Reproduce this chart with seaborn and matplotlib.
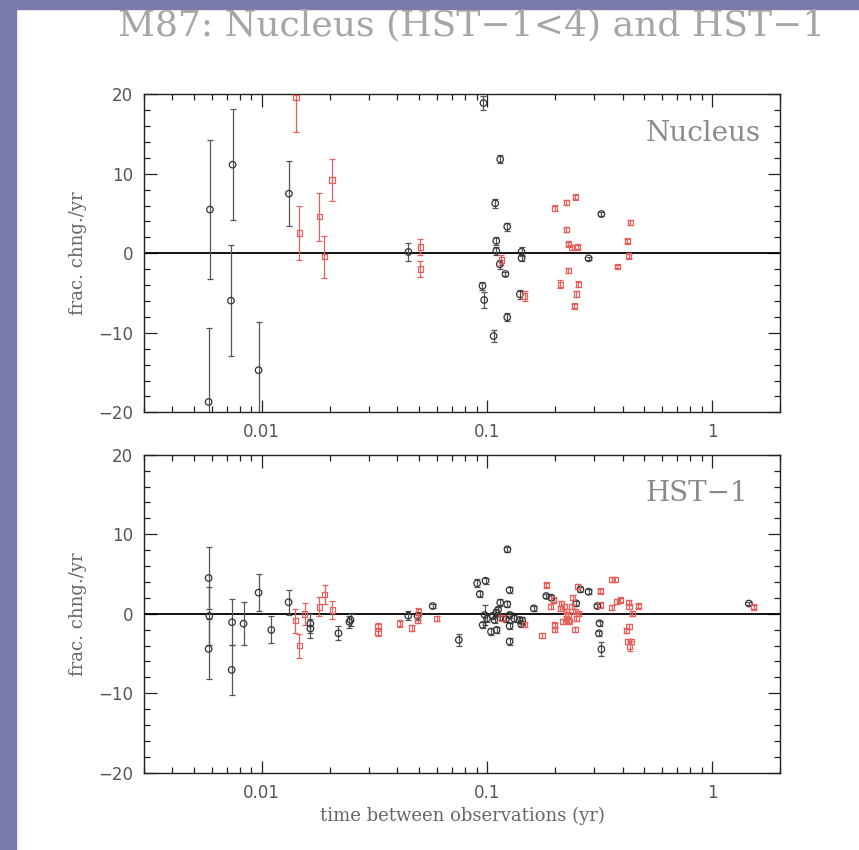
import numpy as np
import pandas as pd
import matplotlib
matplotlib.use("Agg")
import matplotlib.pyplot as plt
from matplotlib.ticker import MultipleLocator, LogLocator, FixedLocator, FixedFormatter, NullFormatter
from matplotlib.patches import Rectangle
import seaborn as sns

# ---------------- data ----------------
title = "M87: Nucleus (HST\u22121<4) and HST\u22121"
panel_names = ["Nucleus", "HST\u22121"]
xlabel = "time between observations (yr)"
ylabel = "frac. chng./yr"
xtick_vals = [0.01, 0.1, 1]
xtick_labels = ["0.01", "0.1", "1"]
ytick_vals = [-20, -10, 0, 10, 20]
ytick_labels = ["\u221220", "\u221210", "0", "10", "20"]

# Nucleus panel, black circles
nuc_k_x = [0.00589, 0.00742, 0.0073, 0.00581, 0.00968, 0.0132, 0.0448, 0.0965,
           0.1145, 0.1088, 0.123, 0.110, 0.110, 0.114, 0.1208, 0.0955, 0.0972,
           0.123, 0.107, 0.140, 0.1424, 0.1424, 0.322, 0.2825]
nuc_k_y = [5.5, 11.15, -5.96, -18.7, -14.7, 7.5, 0.16, 18.9,
           11.82, 6.29, 3.35, 1.55, 0.29, -1.38, -2.6, -4.1, -5.87,
           -8.05, -10.4, -5.16, 0.2, -0.59, 4.94, -0.63]
nuc_k_e = [8.7, 7.0, 6.95, 9.3, 6.0, 4.1, 1.1, 0.85,
           0.5, 0.6, 0.5, 0.5, 0.5, 0.6, 0.2, 0.5, 1.0,
           0.5, 0.8, 0.6, 0.6, 0.4, 0.3, 0.2]

# Nucleus panel, red squares
nuc_r_x = [0.01419, 0.01469, 0.01803, 0.01897, 0.0205, 0.0506, 0.0506, 0.1156,
           0.147, 0.1995, 0.225, 0.2466, 0.225, 0.2296, 0.238, 0.2525, 0.2296,
           0.2115, 0.254, 0.249, 0.244, 0.379, 0.42, 0.433, 0.426]
nuc_r_y = [19.6, 2.55, 4.6, -0.42, 9.22, 0.8, -1.97, -0.84,
           -5.37, 5.66, 6.37, 7.08, 3.02, 1.17, 0.75, 0.8, -2.19,
           -3.9, -3.9, -5.12, -6.63, -1.68, 1.55, 3.85, -0.34]
nuc_r_e = [4.4, 3.45, 3.0, 2.65, 2.7, 1.0, 1.0, 0.6,
           0.6, 0.4, 0.3, 0.3, 0.3, 0.3, 0.3, 0.3, 0.3,
           0.5, 0.4, 0.4, 0.2, 0.2, 0.2, 0.3, 0.3]

# HST-1 panel, black circles
hst_k_x = [0.00581, 0.00585, 0.00581, 0.00738, 0.00735, 0.0083, 0.00968, 0.01102,
           0.01315, 0.01644, 0.01644, 0.0219, 0.0245, 0.0248, 0.0447, 0.0492,
           0.0574, 0.0750, 0.0904, 0.0985, 0.0929, 0.1233, 0.126, 0.1145,
           0.123, 0.0977, 0.1, 0.106, 0.110, 0.112, 0.108, 0.118,
           0.1214, 0.126, 0.132, 0.1395, 0.1434, 0.142, 0.0957, 0.1103,
           0.1042, 0.126, 0.126, 0.1614, 0.1833, 0.193, 0.249, 0.26,
           0.2825, 0.309, 0.316, 0.314, 0.322, 1.455]
hst_k_y = [4.49, -0.28, -4.43, -1.08, -7.07, -1.25, 2.65, -2.04,
           1.44, -1.25, -1.87, -2.46, -1.04, -0.79, -0.24, -0.28,
           0.97, -3.3, 3.82, 4.15, 2.48, 8.1, 2.98, 1.39,
           1.18, -0.16, -0.62, -0.28, 0.14, 0.5, -0.79, -0.58,
           -0.66, -0.16, -0.62, -0.79, -0.87, -1.29, -1.41, -2.04,
           -2.25, -1.54, -3.5, 0.68, 2.23, 2.02, 1.31, 3.07,
           2.77, 0.97, -1.2, -2.46, -4.47, 1.28]
hst_k_e = [3.85, 3.6, 3.8, 2.9, 3.1, 2.7, 2.3, 1.7,
           1.6, 1.2, 1.2, 0.9, 0.8, 0.8, 0.6, 0.5,
           0.3, 0.7, 0.5, 0.4, 0.4, 0.3, 0.4, 0.4,
           0.4, 1.2, 0.4, 0.4, 0.4, 0.4, 0.4, 0.4,
           0.4, 0.4, 0.4, 0.4, 0.4, 0.4, 0.4, 0.4,
           0.4, 0.4, 0.4, 0.3, 0.3, 0.3, 0.3, 0.3,
           0.3, 0.3, 0.3, 0.3, 0.9, 0.2]

# HST-1 panel, red squares
hst_r_x = [0.0141, 0.0147, 0.0155, 0.0180, 0.0190, 0.0206, 0.0328, 0.0328,
           0.0409, 0.0463, 0.0492, 0.0495, 0.0598, 0.1165, 0.147, 0.1754,
           0.1833, 0.1919, 0.1976, 0.1995, 0.1995, 0.2115, 0.217, 0.22,
           0.225, 0.225, 0.229, 0.232, 0.238, 0.2405, 0.247, 0.249,
           0.253, 0.255, 0.246, 0.214, 0.23, 0.319, 0.319, 0.358,
           0.37, 0.358, 0.377, 0.39, 0.426, 0.427, 0.469, 0.441,
           0.427, 0.415, 0.423, 0.438, 0.43, 1.53]
hst_r_y = [-0.87, -4.05, -0.03, 0.85, 2.4, 0.47, -1.62, -2.29,
           -1.25, -1.79, -0.79, 0.26, -0.62, -0.53, -1.33, -2.71,
           3.61, 0.89, 1.73, -1.41, -1.96, 0.68, -1.0, 0.89,
           0.26, -0.58, -0.16, -1.0, 0.89, 2.06, 0.26, -0.58,
           3.4, 0.05, -1.96, 1.28, -0.82, 2.86, 1.1, 4.33,
           4.33, 0.81, 1.51, 1.73, 1.41, 0.94, 0.98, 0.03,
           -1.57, -2.07, -3.54, -3.45, -4.08, 0.85]
hst_r_e = [1.5, 1.55, 1.4, 1.2, 1.15, 1.1, 0.5, 0.5,
           0.4, 0.4, 0.4, 0.4, 0.3, 0.3, 0.3, 0.3,
           0.3, 0.3, 0.3, 0.3, 0.3, 0.3, 0.3, 0.3,
           0.3, 0.3, 0.3, 0.3, 0.3, 0.3, 0.3, 0.3,
           0.3, 0.3, 0.3, 0.3, 0.3, 0.3, 0.3, 0.3,
           0.3, 0.3, 0.3, 0.3, 0.3, 0.3, 0.3, 0.3,
           0.3, 0.3, 0.3, 0.3, 0.6, 0.2]

# ---------------- style ----------------
sns.set_theme(style="ticks")
plt.rcParams["font.family"] = ["DejaVu Sans"]

BLACK = "#333333"
RED = "#e8605c"
TEXT = "#666666"

W, H = 859, 850
fig = plt.figure(figsize=(W / 100, H / 100), dpi=100)
fig.patch.set_facecolor("white")

# purple frame strips
band = "#7b7bab"
fig.patches.append(Rectangle((0, 0), 16 / W, 1, transform=fig.transFigure,
                             color=band, zorder=0))
fig.patches.append(Rectangle((0, 1 - 9 / H), 1, 9 / H, transform=fig.transFigure,
                             color=band, zorder=0))

ax_left = 144 / W
ax_w = 636 / W
ax_h = 318 / H
ax_top = fig.add_axes([ax_left, 1 - 412.3 / H, ax_w, ax_h])
ax_bot = fig.add_axes([ax_left, 1 - 772.7 / H, ax_w, ax_h])

panels = [
    (ax_top, nuc_k_x, nuc_k_y, nuc_k_e, nuc_r_x, nuc_r_y, nuc_r_e, panel_names[0]),
    (ax_bot, hst_k_x, hst_k_y, hst_k_e, hst_r_x, hst_r_y, hst_r_e, panel_names[1]),
]

for ax, kx, ky, ke, rx, ry, re, name in panels:
    ax.set_facecolor("white")
    ax.axhline(0, color="black", lw=1.3, zorder=1)
    ax.errorbar(kx, ky, yerr=ke, fmt="none", ecolor="#555555", elinewidth=0.9,
                capsize=2.2, capthick=0.9, zorder=2)
    ax.errorbar(rx, ry, yerr=re, fmt="none", ecolor=RED, elinewidth=0.9,
                capsize=2.2, capthick=0.9, zorder=2)
    dk = pd.DataFrame({"x": kx, "y": ky})
    dr = pd.DataFrame({"x": rx, "y": ry})
    sns.scatterplot(data=dk, x="x", y="y", ax=ax, marker="o", s=22,
                    facecolor="none", edgecolor=BLACK, linewidth=0.9, zorder=3)
    sns.scatterplot(data=dr, x="x", y="y", ax=ax, marker="s", s=14,
                    facecolor="none", edgecolor=RED, linewidth=0.9, zorder=3)

    ax.set_xscale("log")
    ax.set_xlim(0.003, 2.0)
    ax.set_ylim(-20, 20)

    ax.xaxis.set_major_locator(FixedLocator(xtick_vals))
    ax.xaxis.set_major_formatter(FixedFormatter(xtick_labels))
    ax.xaxis.set_minor_locator(LogLocator(base=10, subs=np.arange(2, 10)))
    ax.xaxis.set_minor_formatter(NullFormatter())
    ax.yaxis.set_major_locator(FixedLocator(ytick_vals))
    ax.yaxis.set_major_formatter(FixedFormatter(ytick_labels))
    ax.yaxis.set_minor_locator(MultipleLocator(2))

    ax.tick_params(which="both", direction="in", top=True, right=True,
                   color="#222222", width=0.9)
    ax.tick_params(which="major", length=9, labelsize=12, labelcolor="#555555", pad=8)
    ax.tick_params(which="minor", length=4.5)
    for sp in ax.spines.values():
        sp.set_color("#222222")
        sp.set_linewidth(1.0)

    ax.set_xlabel("")
    ax.set_ylabel(ylabel, family="DejaVu Serif", fontsize=13, color=TEXT)
    ax.yaxis.set_label_coords(-0.09, 0.5)

    ax.text(0.789, 0.878, name, transform=ax.transAxes, ha="left", va="center",
            family="DejaVu Serif", fontsize=20, color="#8a8a8a")

ax_bot.set_xlabel(xlabel, family="DejaVu Serif", fontsize=13, color=TEXT)
ax_bot.xaxis.set_label_coords(0.5, -0.108)

fig.text(472 / W, 1 - 25 / H, title, ha="center", va="center",
         family="DejaVu Serif", fontsize=26, color="#a6a6a6")

fig.savefig("out.png", dpi=100)
